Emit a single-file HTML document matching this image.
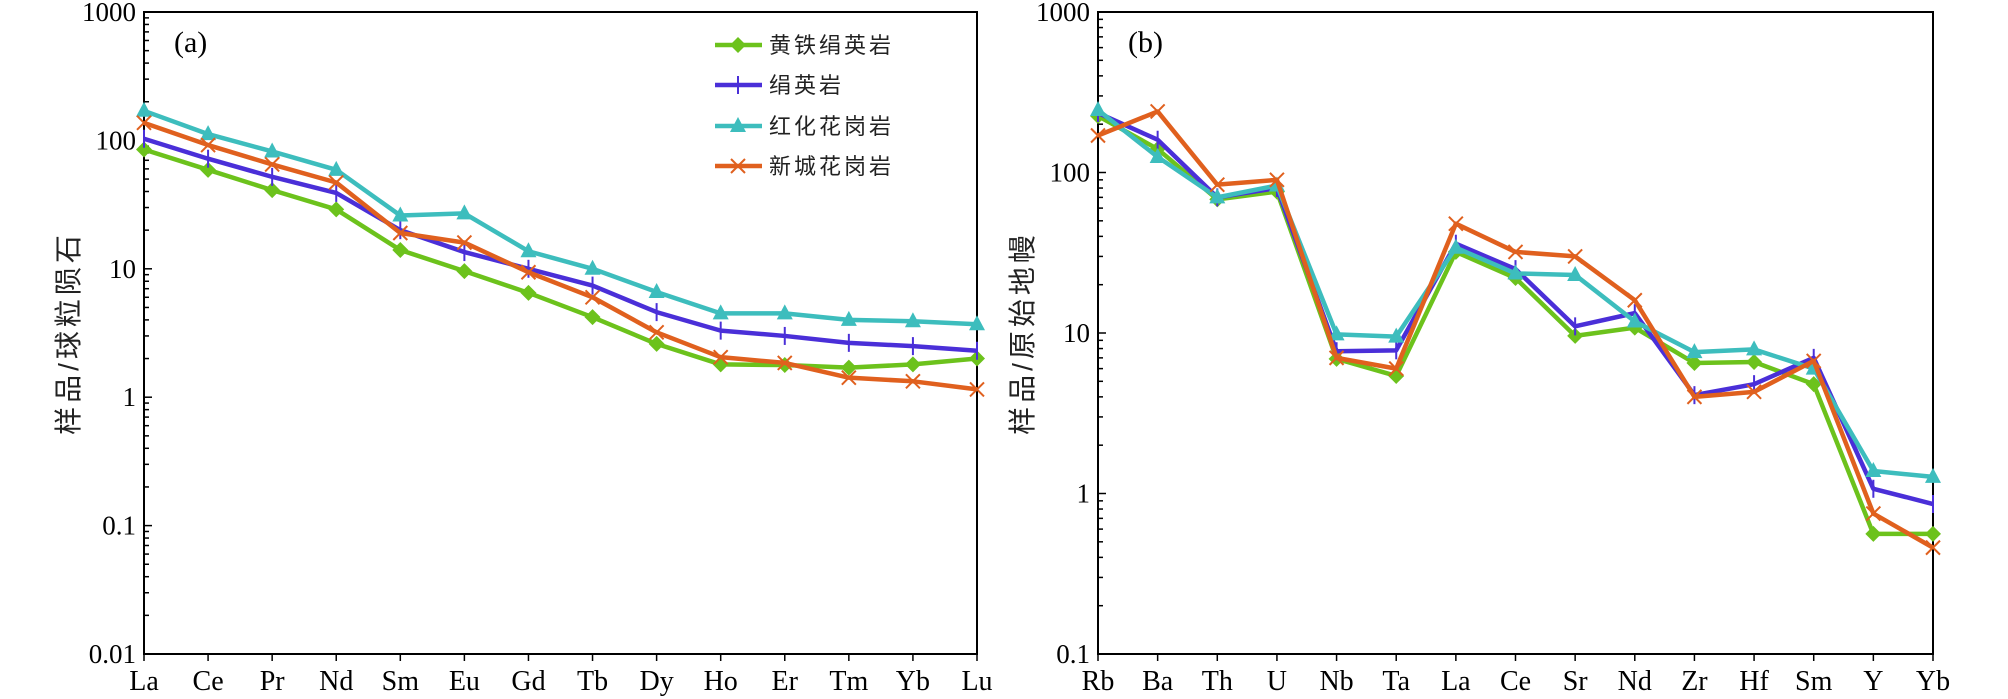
<!DOCTYPE html>
<html><head><meta charset="utf-8"><style>
html,body{margin:0;padding:0;background:#fff;}
svg{display:block;}
</style></head><body>
<svg id="svg" width="2008" height="699" xmlns="http://www.w3.org/2000/svg"></svg>
<script>
const catsA = ["La","Ce","Pr","Nd","Sm","Eu","Gd","Tb","Dy","Ho","Er","Tm","Yb","Lu"];
const greenA = [85,59,41,29,14,9.6,6.5,4.2,2.6,1.8,1.78,1.7,1.8,2.0];
const blueA = [103,72,52,39,20,13.5,10,7.4,4.6,3.3,3.0,2.65,2.5,2.3];
const cyanA = [170,112,82,59,26,27,13.7,10,6.6,4.5,4.5,4.0,3.9,3.7];
const orangeA = [137,92,65,47,19,16,9.4,6.0,3.2,2.05,1.85,1.42,1.33,1.15];
const ticksA = ["0.01","0.1","1","10","100","1000"];
const catsB = ["Rb","Ba","Th","U","Nb","Ta","La","Ce","Sr","Nd","Zr","Hf","Sm","Y","Yb"];
const greenB = [225,140,68,76,6.9,5.4,32,22,9.6,10.8,6.5,6.6,4.8,0.56,0.56];
const blueB = [235,160,70,80,7.7,7.8,36,25,11,13.3,4.1,4.8,7,1.07,0.86];
const cyanB = [245,125,70,83,9.8,9.5,34,23.5,23,11.8,7.6,7.9,6,1.38,1.27];
const orangeB = [170,240,84,90,7,6,48,32,30,16,4.0,4.3,6.7,0.75,0.46];
const ticksB = ["0.1","1","10","100","1000"];
const legendLabels = ["黄铁绢英岩","绢英岩","红化花岗岩","新城花岗岩"];

const NS="http://www.w3.org/2000/svg";
const svg=document.getElementById('svg');
function mk(tag,attrs,parent){const e=document.createElementNS(NS,tag);for(const k in attrs)e.setAttribute(k,attrs[k]);(parent||svg).appendChild(e);return e;}
const COLORS=["#6cc21c","#4a2fd8","#3dbdbd","#e0601e"];
const MK=["diamond","plus","tri","x"];
const SER=["green","blue","cyan","orange"];
const serif='"Liberation Serif", serif';
const cjk='"Liberation Sans","Noto Sans CJK SC",sans-serif';

function marker(g,type,x,y,c){
  let e;
  if(type==="diamond"){e=mk('polygon',{points:`${x},${y-8} ${x+8},${y} ${x},${y+8} ${x-8},${y}`,fill:c},g);}
  else if(type==="tri"){e=mk('polygon',{points:`${x},${y-9} ${x+8},${y+6} ${x-8},${y+6}`,fill:c},g);}
  else if(type==="plus"){e=mk('path',{d:`M${x},${y-9}V${y+9}`,stroke:c,'stroke-width':2,fill:'none'},g);}
  else {e=mk('path',{d:`M${x-7},${y-7}L${x+7},${y+7}M${x+7},${y-7}L${x-7},${y+7}`,stroke:c,'stroke-width':2,fill:'none'},g);}
  
  
}

function chart(id,x0,x1,y0,y1,lmin,lmax,cats,series,ticks,title,panel){
  const g=mk('g',{});
  
  
  const xs=i=>x0+(x1-x0)*i/(cats.length-1);
  const ys=v=>y1-(y1-y0)*(Math.log10(v)-lmin)/(lmax-lmin);
  const fr=mk('rect',{x:x0,y:y0,width:x1-x0,height:y1-y0,fill:'none',stroke:'#000','stroke-width':2},g);
  
  
  // y ticks
  for(let d=lmin; d<lmax; d++){
    for(let m=1;m<10;m++){
      const yy=ys(m*Math.pow(10,d));
      const len=m===1?8:5;
      mk('line',{x1:x0,x2:x0+len,y1:yy,y2:yy,stroke:'#000','stroke-width':1.5},g);
    }
  }
  ticks.forEach((t)=>{
    const yy=ys(parseFloat(t));
    const tx=mk('text',{x:x0-8,y:yy+9,'text-anchor':'end','font-family':serif,'font-size':27,fill:'#000'},g);
    tx.textContent=t;
    
    
  });
  cats.forEach((c,i)=>{
    const xx=xs(i);
    mk('line',{x1:xx,x2:xx,y1:y1,y2:y1+7,stroke:'#000','stroke-width':1.5},g);
    const tx=mk('text',{x:xx,y:y1+36,'text-anchor':'middle','font-family':serif,'font-size':28,fill:'#000'},g);
    tx.textContent=c;
    
    
  });
  const ttl=mk('text',{transform:`translate(${x0-66},${(y0+y1)/2}) rotate(-90)`,'text-anchor':'middle','font-family':cjk,'font-size':28,'letter-spacing':4,fill:'#222'},g);
  ttl.textContent=title;
  
  
  const pl=mk('text',{x:x0+30,y:y0+40,'font-family':serif,'font-size':30,fill:'#000'},g);
  pl.textContent=panel;
  
  
  series.forEach((vals,s)=>{
    const sg=mk('g',{},g);
    
    
    const pts=vals.map((v,i)=>xs(i)+','+ys(v)).join(' ');
    const pl=mk('polyline',{points:pts,fill:'none',stroke:COLORS[s],'stroke-width':4.5,'stroke-linejoin':'round'},sg);
    
    
    vals.forEach((v,i)=>marker(sg,MK[s],xs(i),ys(v),COLORS[s]));
  });
}
chart('chart-a',144,977,12,654,-2,3,catsA,[greenA,blueA,cyanA,orangeA],ticksA,'样品/球粒陨石','(a)');
chart('chart-b',1098,1933,12,654,-1,3,catsB,[greenB,blueB,cyanB,orangeB],ticksB,'样品/原始地幔','(b)');

const lg=mk('g',{});


const rowsY=[45,85,126,166];
legendLabels.forEach((t,i)=>{
  const eg=mk('g',{},lg);
  
  
  mk('line',{x1:715,x2:762,y1:rowsY[i],y2:rowsY[i],stroke:COLORS[i],'stroke-width':4.5},eg);
  marker(eg,MK[i],738,rowsY[i],COLORS[i]);
  const tx=mk('text',{x:769,y:rowsY[i]+8,'font-family':cjk,'font-size':22,'letter-spacing':3,fill:'#222'},eg);
  tx.textContent=t;
});
</script>
</body></html>
